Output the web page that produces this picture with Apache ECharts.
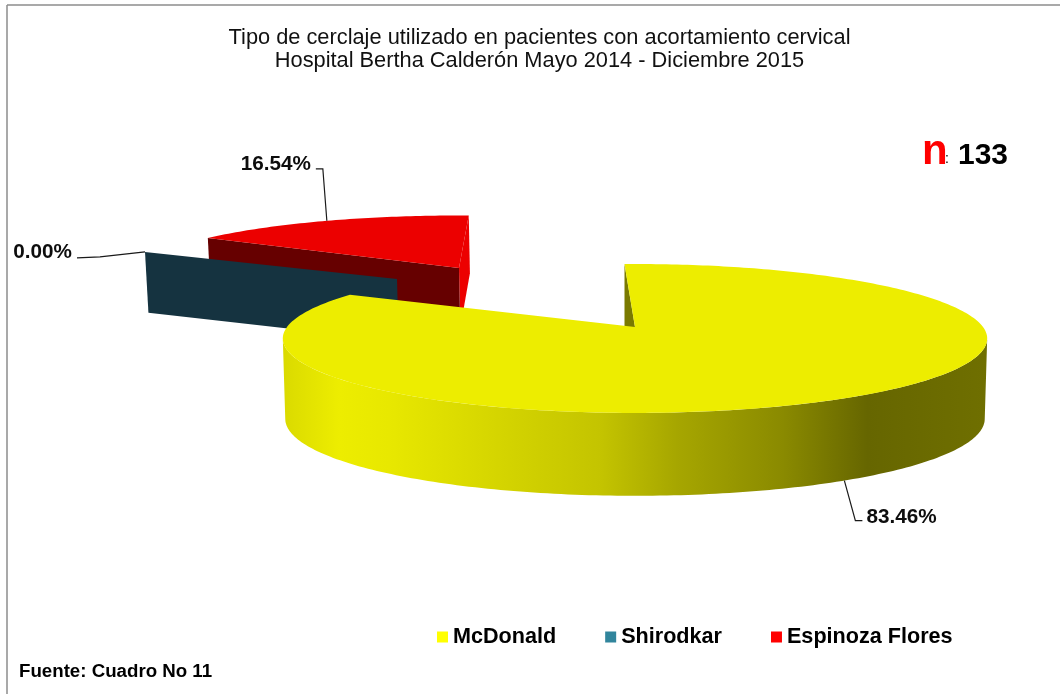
<!DOCTYPE html>
<html>
<head>
<meta charset="utf-8">
<style>html,body{margin:0;padding:0;background:#fff}#c{width:1060px;height:694px}</style>
<script src="https://cdn.jsdelivr.net/npm/echarts@6/dist/echarts.min.js"></script>
</head>
<body>
<div id="c"></div>
<script>
var categories = ['McDonald', 'Shirodkar', 'Espinoza Flores'];
var counts = [111, 0, 22];
var legendColors = ['#FFFF00', '#31859C', '#FF0000'];
var totalN = 133;
var titleLines = ['Tipo de cerclaje utilizado en pacientes con acortamiento cervical',
                  'Hospital Bertha Calderón Mayo 2014 - Diciembre 2015'];
var sourceText = 'Fuente: Cuadro No 11';

/* layout of the 3D projection */
var FIRST_ANGLE = -2, PERSPECTIVE = 0.154, RX = 348, RY = 72.7, CX = 635, SHRINK = 0.993, WALL_Q = 0.036;
var sliceLayout = [
  {ax: 635, ay: 327, k: 1, ky: 1, rot: 0, wall: 80,
   top: '#EDED00',
   elbow: [[11, 40], [18, 40]], label: [22, 26, 'left']},
  {ax: 397, ay: 279, k: 0.884, ky: 0.95, rot: 0, wall: 62,
   top: '#153340', wallColor: '#153340',
   elbow: [[-45, 5], [-68, 6]], label: [-73, -10, 'right']},
  {ax: 459, ay: 268, k: 0.926, ky: 0.9, rot: 4, wall: 60,
   top: '#EC0000', wallColor: '#660000', sideColor: '#EC0000',
   elbow: [[-4, -52], [-11, -52]], label: [-16, -67, 'right']}
];
var seriesZ = [3, 2, 1];
var yellowWall = [[0, '#DADA00'], [0.08, '#EDED00'], [0.15, '#E8E800'], [0.33, '#D2D200'], [0.45, '#C4C400'],
                  [0.56, '#A6A600'], [0.71, '#8A8A00'], [0.83, '#666600'], [1, '#6F6F00']];

var total = counts.reduce(function (a, b) { return a + b; }, 0);
function sliceAngles(i) {
  var sum = 0;
  for (var j = 0; j < i; j++) sum += counts[j];
  return [FIRST_ANGLE + sum / total * 360, FIRST_ANGLE + (sum + counts[i]) / total * 360];
}
function project(L, deg) {
  var t = (deg + L.rot) * Math.PI / 180, X = Math.sin(t), Y = Math.cos(t), s = 1 / (1 + PERSPECTIVE * Y);
  return [L.ax + RX * X * s * L.k, L.ay - RY * Y * s * L.k * L.ky, Y];
}
function lower(L, p, atApex) {
  var y = atApex ? 0 : p[2];
  return [CX + (p[0] - CX) * SHRINK, p[1] + L.wall * (1 - WALL_Q * y)];
}
function arcPoints(L, a0, a1) {
  var pts = [], n = Math.max(1, Math.ceil(Math.abs(a1 - a0)));
  for (var i = 0; i <= n; i++) pts.push(project(L, a0 + (a1 - a0) * i / n));
  return pts;
}
function renderSlice(i) {
  return function (params, api) {
    var L = sliceLayout[i], value = api.value(0), ang = sliceAngles(i), kids = [];
    var apex = [L.ax, L.ay, 0];
    var arc = arcPoints(L, ang[0], ang[1]);
    var first = arc[0], last = arc[arc.length - 1];
    function quad(p, fill) {
      return {type: 'polygon', shape: {points: [p, apex, lower(L, apex, true), lower(L, p)]}, style: {fill: fill}};
    }
    if (i === 0) {
      /* only the front half of the rim shows a wall: between the two horizontal extremes */
      var ext = Math.acos(-PERSPECTIVE) * 180 / Math.PI;
      var front = arcPoints(L, Math.max(ang[0], ext), Math.min(ang[1], 360 - ext));
      var wallPts = front.map(function (p) { return [p[0], p[1]]; })
        .concat(front.slice().reverse().map(function (p) { return lower(L, p); }));
      kids.push({type: 'polygon', shape: {points: wallPts},
        style: {fill: new echarts.graphic.LinearGradient(0, 0, 1, 0,
          yellowWall.map(function (s) { return {offset: s[0], color: s[1]}; }))}});
      kids.push(quad(first, '#7A7A00'));
    } else if (value === 0) {
      kids.push(quad(first, L.wallColor));
    } else {
      kids.push({type: 'polygon', shape: {points: [last, lower(L, last), lower(L, apex, true), apex]}, style: {fill: L.sideColor}});
      kids.push(quad(first, L.wallColor));
    }
    if (value > 0) {
      kids.push({type: 'polygon',
        shape: {points: [apex].concat(arc.map(function (p) { return [p[0], p[1]]; }))},
        style: {fill: L.top}});
    }
    /* leader line and percentage label, anchored on the slice's mid angle */
    var mid = project(L, (ang[0] + ang[1]) / 2);
    var anchor = i === 0 ? lower(L, mid) : [mid[0], mid[1]];
    var linePts = [anchor].concat(L.elbow.map(function (e) { return [anchor[0] + e[0], anchor[1] + e[1]]; }));
    kids.push({type: 'polyline', shape: {points: linePts}, style: {stroke: '#1a1a1a', lineWidth: 1.2, fill: null}});
    kids.push({type: 'text', style: {
      x: anchor[0] + L.label[0], y: anchor[1] + L.label[1],
      text: (value / total * 100).toFixed(2) + '%',
      font: 'bold 20.7px "Liberation Sans"', fill: '#0d0d0d',
      textAlign: L.label[2], textBaseline: 'middle'}});
    return {type: 'group', children: kids};
  };
}

var chart = echarts.init(document.getElementById('c'), null, {renderer: 'canvas'});
chart.setOption({
  animation: false,
  backgroundColor: '#fff',
  color: legendColors,
  title: [
    {text: titleLines.join('\n'), left: 534.5, top: 21, textAlign: 'center',
     textStyle: {fontFamily: 'Liberation Sans', fontSize: 21.8, fontWeight: 'normal', color: '#111', lineHeight: 23}},
    {text: 'n', left: 917, top: 126,
     textStyle: {fontFamily: 'Liberation Sans', fontWeight: 'bold', fontSize: 42, color: '#FF0000'}},
    {text: ':', left: 940, top: 147,
     textStyle: {fontFamily: 'Liberation Sans', fontWeight: 'normal', fontSize: 14, color: '#000'}},
    {text: String(totalN), left: 953, top: 136,
     textStyle: {fontFamily: 'Liberation Sans', fontWeight: 'bold', fontSize: 30, color: '#000'}},
    {text: sourceText, left: 14, top: 657,
     textStyle: {fontFamily: 'Liberation Sans', fontSize: 18.7, fontWeight: 'bold', color: '#000'}}
  ],
  legend: {
    left: 432, top: 621, icon: 'rect', itemWidth: 11, itemHeight: 11, itemGap: 49,
    data: categories, selectedMode: false,
    textStyle: {fontFamily: 'Liberation Sans', fontSize: 21.6, fontWeight: 'bold', color: '#000'}
  },
  series: categories.map(function (name, i) {
    return {
      type: 'custom', name: name, coordinateSystem: 'none', z: seriesZ[i], silent: true,
      itemStyle: {color: legendColors[i]},
      data: [[counts[i]]],
      renderItem: renderSlice(i)
    };
  }),
  graphic: [
    {type: 'line', shape: {x1: 7, y1: 5, x2: 1060, y2: 5}, style: {stroke: '#8c8c8c', lineWidth: 1.5}, silent: true},
    {type: 'line', shape: {x1: 7, y1: 5, x2: 7, y2: 694}, style: {stroke: '#8c8c8c', lineWidth: 1.5}, silent: true}
  ]
});
</script>
</body>
</html>
